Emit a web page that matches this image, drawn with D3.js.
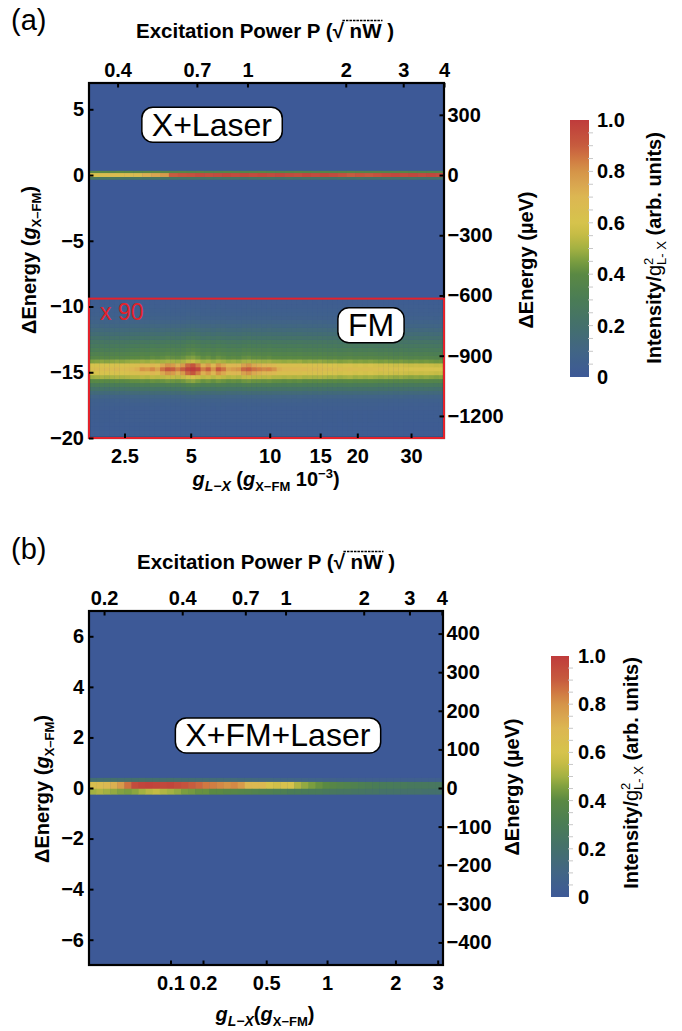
<!DOCTYPE html>
<html><head><meta charset="utf-8">
<script src="https://cdn.jsdelivr.net/npm/d3@7/dist/d3.min.js"></script>
<style>
html,body{margin:0;padding:0;background:#fff;}
svg{display:block;}
</style></head>
<body>
<svg id="chart" width="682" height="1031"></svg>
<script>
// ================= DATA =================
// colour map (colour bar)
const colorStops  = [0, 0.1, 0.2, 0.3, 0.4, 0.45, 0.5, 0.55, 0.6, 0.7, 0.75, 0.8, 0.85, 0.9, 1.0];
const colorValues = ["#3d5997","#416585","#44706c","#4a7c56","#5a8943","#7a9d3f","#a3b142","#c4bb45","#d6c34c","#dcb752","#d9a650","#d59448","#d07842","#c75c3e","#bf3b3b"];
const cbarTicks = [0, 0.2, 0.4, 0.6, 0.8, 1.0];
const cbarTickLabels = ["0", "0.2", "0.4", "0.6", "0.8", "1.0"];

const gXFM_ueV = 65.5;   // 1 g_X-FM in µeV (right axes)

// ---- panel (a) ----
const aPowerDomain = [0.327, 4];
const aEnergyDomain = [-20, 7];
const aTopTicks = [0.4, 0.7, 1, 2, 3, 4];
const aBottomTicks = [2.5, 5, 10, 15, 20, 30];
const aLeftTicks = [-20, -15, -10, -5, 0, 5];
const aRightTicks = [-1200, -900, -600, -300, 0, 300];
const aCouplingSlope = 10, aCouplingP0 = 0.17;     // g_L-X (1e-3) = slope * (P - P0)
// X+Laser line at 0 : three energy rows, 40 power columns
const aLineRowEdges = [0.32, 0.15, -0.15, -0.33];
const aLineTop = [0.38,0.39,0.38,0.4,0.39,0.38,0.39,0.4,0.38,0.37,0.38,0.37,0.38,0.36,0.37,0.38,0.37,0.36,0.37,0.38,
                  0.37,0.36,0.37,0.38,0.37,0.36,0.37,0.36,0.37,0.38,0.37,0.36,0.37,0.36,0.37,0.38,0.37,0.36,0.37,0.36];
const aLineMid = [0.62,0.64,0.66,0.65,0.66,0.67,0.72,0.75,0.78,0.9,0.92,0.93,0.95,0.94,0.95,0.96,0.95,0.96,0.95,0.96,
                  0.95,0.96,0.95,0.94,0.96,0.95,0.96,0.95,0.93,0.9,0.92,0.91,0.93,0.95,0.96,0.95,0.96,0.95,0.96,0.95];
const aLineBot = [0.26,0.25,0.26,0.25,0.24,0.25,0.24,0.25,0.24,0.24,0.23,0.24,0.23,0.24,0.23,0.24,0.23,0.22,0.23,0.24,
                  0.23,0.22,0.23,0.22,0.23,0.22,0.23,0.22,0.23,0.22,0.23,0.22,0.22,0.23,0.22,0.22,0.23,0.22,0.22,0.22];
// FM (x90) region
const fmFactor = "x 90";
const fmBoxTop = -9.4;
const fmRowStart = -20, fmRowStep = 0.3;
const fmCenterRow = 17;
const fmSideRows = [16, 18];
const fmRowProfile = [0.05,0.05,0.05,0.05,0.06,0.06,0.06,0.07,
                      0.08,0.1,0.15,0.24,0.36,0.48,0.64,
                      0.82,0.98,1.0,0.97,0.76,
                      0.62,0.56,0.5,0.45,0.4,0.34,0.28,0.23,
                      0.18,0.14,0.11,0.09,0.08,0.07,0.06,0.06];
const fmBase = [0.6,0.61,0.62,0.61,0.62,0.63,0.62,0.63,0.64,0.64,
                0.65,0.64,0.66,0.65,
                0.66,0.68,0.67,0.66,
                0.68,0.72,0.74,0.7,
                0.66,0.68,0.65,
                0.68,0.66,
                0.64,0.65,0.64,
                0.67,0.68,0.66,0.66,0.65,0.66,0.64,
                0.64,0.63,0.64,0.63,0.64,0.62,0.63,0.62,0.63,
                0.62,0.61,0.62,0.6,0.61,0.62,0.6,0.61,0.6,0.61,0.6,0.59,0.6,
                0.59,0.58,0.59,0.58,0.57,0.58,0.57,0.58,0.57,0.56,0.57];
const fmSide = [0.6,0.6,0.61,0.6,0.61,0.62,0.61,0.62,0.63,0.64,
                0.68,0.66,0.7,0.66,
                0.74,0.8,0.78,0.72,
                0.78,0.88,0.92,0.84,
                0.72,0.78,0.7,
                0.8,0.74,
                0.68,0.7,0.7,
                0.76,0.8,0.74,0.72,0.7,0.7,0.68,
                0.64,0.63,0.64,0.63,0.64,0.62,0.63,0.62,0.63,
                0.61,0.6,0.61,0.59,0.6,0.61,0.59,0.6,0.59,0.6,0.59,0.58,0.59,
                0.58,0.57,0.58,0.57,0.56,0.57,0.56,0.57,0.56,0.55,0.56];
const fmCenter = [0.64,0.66,0.65,0.67,0.66,0.68,0.66,0.67,0.7,0.72,
                  0.8,0.78,0.82,0.76,
                  0.86,0.92,0.9,0.84,
                  0.9,0.98,1.0,0.96,
                  0.84,0.9,0.8,
                  0.92,0.86,
                  0.76,0.78,0.8,
                  0.88,0.9,0.86,0.84,0.82,0.83,0.8,
                  0.72,0.7,0.69,0.7,0.68,0.7,0.67,0.68,0.67,
                  0.66,0.67,0.65,0.66,0.64,0.66,0.65,0.64,0.65,0.64,0.63,0.65,0.63,
                  0.62,0.63,0.61,0.62,0.6,0.61,0.62,0.6,0.61,0.6,0.6];

// ---- panel (b) ----
const bPowerDomain = [0.175, 4.04];
const bEnergyDomain = [-7, 7];
const bTopTicks = [0.2, 0.4, 0.7, 1, 2, 3, 4];
const bBottomTicks = [0.1, 0.2, 0.5, 1, 2, 3];
const bLeftTicks = [-6, -4, -2, 0, 2, 4, 6];
const bRightTicks = [-400, -300, -200, -100, 0, 100, 200, 300, 400];
const bCouplingSlope = 0.83, bCouplingP0 = 0.24;  // g_L-X = slope * (P - P0)
const bRowEdges = [0.4, 0.24, -0.03, -0.25];
const bTop = [0.18,0.19,0.2,0.2,0.19,0.2,0.2,0.21,0.2,0.2, 0.19,0.2,0.19,0.18,0.18,0.17,0.17,0.16,0.16,0.15,
              0.15,0.14,0.14,0.13,0.12,0.12,0.11,0.1,0.1,0.09, 0.09,0.08,0.08,0.07,0.07,0.06,0.06,0.06,0.05,0.05,
              0.05,0.05,0.05,0.05,0.05,0.05,0.05,0.05,0.05,0.05];
const bMid = [0.64,0.66,0.68,0.72,0.78,0.86,0.95,0.97,0.98,0.97, 0.96,0.97,0.95,0.93,0.9,0.88,0.85,0.84,0.82,0.8,
              0.82,0.78,0.7,0.68,0.68,0.6,0.58,0.62,0.6,0.52, 0.48,0.45,0.42,0.4,0.38,0.36,0.35,0.34,0.32,0.31,
              0.3,0.29,0.29,0.28,0.28,0.27,0.27,0.27,0.26,0.26];
const bBot = [0.5,0.52,0.5,0.48,0.46,0.45,0.47,0.5,0.53,0.55, 0.52,0.5,0.48,0.45,0.44,0.42,0.42,0.4,0.4,0.38,
              0.38,0.37,0.36,0.35,0.34,0.33,0.32,0.32,0.3,0.3, 0.29,0.28,0.28,0.27,0.26,0.25,0.25,0.24,0.24,0.23,
              0.23,0.22,0.22,0.22,0.21,0.21,0.21,0.2,0.2,0.2];

// annotations (data coordinates: P, energy)
const aLabels = [{text: "X+Laser", P: 0.778, E: 3.83}, {text: "FM", P: 2.39, E: -11.42}];
const aFactorPos = {P: 0.3535, E: -11.0};
const bLabels = [{text: "X+FM+Laser", P: 0.934, E: 2.08}];

// ================= DRAWING =================
const FONT = "'Liberation Sans', Arial, Helvetica, sans-serif";
const svg = d3.select("#chart");
const defs = svg.append("defs");
const color = d3.scaleLinear().domain(colorStops).range(colorValues).interpolate(d3.interpolateRgb).clamp(true);

// gradient for colour bars
const grad = defs.append("linearGradient").attr("id","cbgrad").attr("x1",0).attr("y1",1).attr("x2",0).attr("y2",0);
d3.range(0, 1.0001, 0.02).forEach(v => grad.append("stop").attr("offset", v).attr("stop-color", color(v)));

function styleAxis(g, size){
  g.select(".domain").remove();
  g.selectAll(".tick line").attr("stroke","#000").attr("stroke-width",2);
  g.selectAll(".tick text").attr("font-family",FONT).attr("font-size",size||20).attr("font-weight","bold").attr("fill","#000");
}

function drawPanel(cfg){
  const g = svg.append("g");
  const x = d3.scaleLog().domain(cfg.pDomain).range([cfg.x0, cfg.x1]);
  const y = d3.scaleLinear().domain(cfg.eDomain).range([cfg.y1, cfg.y0]);
  const yu = d3.scaleLinear().domain(cfg.eDomain.map(e => e * gXFM_ueV)).range([cfg.y1, cfg.y0]);
  const clipId = "clip" + cfg.id;
  defs.append("clipPath").attr("id", clipId).append("rect")
    .attr("x", cfg.x0).attr("y", cfg.y0).attr("width", cfg.x1 - cfg.x0).attr("height", cfg.y1 - cfg.y0);
  const plot = g.append("g").attr("clip-path", `url(#${clipId})`);
  plot.append("rect").attr("x", cfg.x0).attr("y", cfg.y0).attr("width", cfg.x1 - cfg.x0).attr("height", cfg.y1 - cfg.y0)
    .attr("fill", color(0));
  return {g, plot, x, y, yu};
}

// draw a band of rows (edges) x columns (values[row][col]) onto a log-power axis
function drawBand(p, pDomain, rowEdges, rows){
  const n = rows[0].length;
  const lx = d3.scaleLinear().domain([0, n]).range(pDomain.map(Math.log10));
  const cells = [];
  rows.forEach((vals, r) => vals.forEach((v, c) => cells.push({r, c, v})));
  p.plot.append("g").selectAll("rect").data(cells).join("rect")
    .attr("x", d => p.x(10 ** lx(d.c)))
    .attr("width", d => p.x(10 ** lx(d.c + 1)) - p.x(10 ** lx(d.c)) + 0.4)
    .attr("y", d => Math.min(p.y(rowEdges[d.r]), p.y(rowEdges[d.r + 1])))
    .attr("height", d => Math.abs(p.y(rowEdges[d.r + 1]) - p.y(rowEdges[d.r])) + 0.3)
    .attr("fill", d => color(d.v));
}

function drawAxes(p, cfg){
  const fmt = d3.format("~g");
  const top = p.g.append("g").attr("transform", `translate(0,${cfg.y0})`)
    .call(d3.axisTop(p.x).tickValues(cfg.topTicks).tickFormat(fmt).tickSize(-4.5).tickPadding(6));
  styleAxis(top);
  const bt = cfg.bottomTicks;
  const bot = p.g.append("g").attr("transform", `translate(0,${cfg.y1})`)
    .call(d3.axisBottom(p.x).tickValues(bt.map(v => v / cfg.slope + cfg.p0))
      .tickFormat((d, i) => fmt(bt[i])).tickSize(-4.5).tickPadding(11));
  styleAxis(bot);
  const left = p.g.append("g").attr("transform", `translate(${cfg.x0},0)`)
    .call(d3.axisLeft(p.y).tickValues(cfg.leftTicks).tickFormat(d3.format("d")).tickSize(-4.5).tickPadding(5));
  styleAxis(left);
  const right = p.g.append("g").attr("transform", `translate(${cfg.x1},0)`)
    .call(d3.axisRight(p.yu).tickValues(cfg.rightTicks).tickFormat(d3.format("d")).tickSize(-4.5).tickPadding(3.5));
  styleAxis(right);
}

function drawFrame(p, cfg){
  p.g.append("rect").attr("x", cfg.x0).attr("y", cfg.y0).attr("width", cfg.x1 - cfg.x0).attr("height", cfg.y1 - cfg.y0)
    .attr("fill","none").attr("stroke","#000").attr("stroke-width",2.2);
}

function drawColorbar(cb){
  const s = d3.scaleLinear().domain([0,1]).range([cb.y1, cb.y0]);
  const g = svg.append("g");
  g.append("rect").attr("x", cb.x0).attr("y", cb.y0).attr("width", cb.x1 - cb.x0).attr("height", cb.y1 - cb.y0)
    .attr("fill","url(#cbgrad)");
  g.selectAll("line.minor").data(d3.range(0.05, 0.999, 0.05)).join("line").attr("class","minor")
    .attr("x1", cb.x1 - 1).attr("x2", cb.x1 + 4).attr("y1", d => s(d)).attr("y2", d => s(d))
    .attr("stroke", "#c8c8c8").attr("stroke-width", 1);
  const ax = g.append("g").attr("transform", `translate(${cb.x1},0)`)
    .call(d3.axisRight(s).tickValues(cbarTicks).tickFormat((d,i) => cbarTickLabels[i]).tickSize(0).tickPadding(cb.pad));
  styleAxis(ax);
}

function labelBox(p, lab, size){
  const grp = p.g.append("g");
  const rect = grp.append("rect");
  const t = grp.append("text").attr("x", p.x(lab.P)).attr("y", p.y(lab.E))
    .attr("text-anchor","middle").attr("dominant-baseline","central")
    .attr("font-family",FONT).attr("font-size",size).attr("fill","#000").text(lab.text);
  const bb = t.node().getBBox();
  const h = 35;
  const cy = p.y(lab.E);
  rect.attr("x", bb.x - 10).attr("y", cy - h / 2).attr("width", bb.width + 20).attr("height", h)
    .attr("rx", 11).attr("fill","#fff").attr("stroke","#000").attr("stroke-width",1.5);
}

function topTitle(cx, baseline){
  const t = svg.append("text").attr("x", cx).attr("y", baseline).attr("text-anchor","middle")
    .attr("font-family",FONT).attr("font-size",20.5).attr("font-weight","bold").attr("fill","#000");
  const str = "Excitation Power P (\u221A nW )";
  t.text(str);
  const node = t.node();
  const i0 = str.indexOf("\u221A"), i1 = str.indexOf("W");
  const sx = node.getEndPositionOfChar(i0).x - 1.5, ex = node.getEndPositionOfChar(i1).x + 1;
  svg.append("line").attr("x1", sx).attr("x2", ex).attr("y1", baseline - 17.5).attr("y2", baseline - 17.5)
    .attr("stroke","#000").attr("stroke-width",1.3).attr("stroke-dasharray","2.5,1");
}

function rotTitle(x, y, build){
  const t = svg.append("text").attr("transform", `translate(${x},${y}) rotate(-90)`).attr("text-anchor","middle")
    .attr("font-family",FONT).attr("font-size",20).attr("font-weight","bold").attr("fill","#000");
  build(t);
  return t;
}
function energyTitle(t){
  t.append("tspan").text("\u0394Energy (");
  t.append("tspan").attr("font-style","italic").text("g");
  t.append("tspan").attr("font-size",13).attr("dy",5).text("X\u2013FM");
  t.append("tspan").attr("dy",-5).text(")");
}
function ueVTitle(t){ t.text("\u0394Energy (\u00B5eV)"); }
function intensityTitle(t){
  t.append("tspan").text("Intensity/");
  t.append("tspan").attr("font-weight","normal").text("g");
  const sup = t.append("tspan").attr("font-weight","normal").attr("font-size",13).attr("dy",-8).text("2");
  const w = sup.node().getComputedTextLength();
  t.append("tspan").attr("font-weight","normal").attr("font-size",13).attr("dx",-w).attr("dy",13).text("L- X");
  t.append("tspan").attr("dy",-5).text(" (arb. units)");
}

function panelLetter(txt, x, baseline){
  svg.append("text").attr("x", x).attr("y", baseline).attr("font-family",FONT).attr("font-size",29)
    .attr("fill","#000").text(txt);
}

// ---------------- panel (a) ----------------
const cfgA = {id:"a", x0:89, x1:444, y0:83, y1:438, pDomain:aPowerDomain, eDomain:aEnergyDomain,
  topTicks:aTopTicks, bottomTicks:aBottomTicks, leftTicks:aLeftTicks, rightTicks:aRightTicks,
  slope:aCouplingSlope, p0:aCouplingP0};
const pa = drawPanel(cfgA);
drawBand(pa, aPowerDomain, aLineRowEdges, [aLineTop, aLineMid, aLineBot]);
// FM region (x90)
{
  const clipId = "clipFM";
  defs.append("clipPath").attr("id", clipId).append("rect")
    .attr("x", cfgA.x0).attr("y", pa.y(fmBoxTop)).attr("width", cfgA.x1 - cfgA.x0).attr("height", cfgA.y1 - pa.y(fmBoxTop));
  const fmRows = fmRowProfile.map((prof, k) =>
    k === fmCenterRow ? fmCenter.slice() : (fmSideRows.includes(k) ? fmSide.slice() : fmBase.map(b => b * prof)));
  const fmEdges = d3.range(fmRowProfile.length + 1).map(k => fmRowStart + k * fmRowStep);
  const sub = {plot: pa.plot.append("g").attr("clip-path", `url(#${clipId})`), x: pa.x, y: pa.y};
  drawBand(sub, aPowerDomain, fmEdges, fmRows);
}
drawFrame(pa, cfgA);
pa.g.append("rect").attr("x", cfgA.x0).attr("y", pa.y(fmBoxTop)).attr("width", cfgA.x1 - cfgA.x0)
  .attr("height", cfgA.y1 - pa.y(fmBoxTop)).attr("fill","none").attr("stroke","#e3222b").attr("stroke-width",2);
drawAxes(pa, cfgA);
pa.g.append("text").attr("x", pa.x(aFactorPos.P)).attr("y", pa.y(aFactorPos.E)).attr("font-family",FONT)
  .attr("font-size",23).attr("fill","#e3222b").text(fmFactor);
aLabels.forEach(l => labelBox(pa, l, 32));
drawColorbar({x0:570, x1:589, y0:120, y1:377, pad:8});
topTitle(265, 38);
rotTitle(36, 260, energyTitle);
rotTitle(533, 260, ueVTitle);
rotTitle(661, 248, intensityTitle);
{
  const t = svg.append("text").attr("x", 266).attr("y", 486).attr("text-anchor","middle")
    .attr("font-family",FONT).attr("font-size",20).attr("font-weight","bold").attr("fill","#000");
  t.append("tspan").attr("font-style","italic").text("g");
  t.append("tspan").attr("font-style","italic").attr("font-size",14).attr("dy",5).text("L\u2212X");
  t.append("tspan").attr("dy",-5).text(" (");
  t.append("tspan").attr("font-style","italic").text("g");
  t.append("tspan").attr("font-size",13).attr("dy",5).text("X\u2212FM");
  t.append("tspan").attr("dy",-5).text(" 10");
  t.append("tspan").attr("font-size",13).attr("dy",-8).text("\u22123");
  t.append("tspan").attr("dy",8).text(")");
}
panelLetter("(a)", 11, 30);

// ---------------- panel (b) ----------------
const cfgB = {id:"b", x0:89, x1:443, y0:611, y1:965, pDomain:bPowerDomain, eDomain:bEnergyDomain,
  topTicks:bTopTicks, bottomTicks:bBottomTicks, leftTicks:bLeftTicks, rightTicks:bRightTicks,
  slope:bCouplingSlope, p0:bCouplingP0};
const pb = drawPanel(cfgB);
drawBand(pb, bPowerDomain, bRowEdges, [bTop, bMid, bBot]);
drawFrame(pb, cfgB);
drawAxes(pb, cfgB);
bLabels.forEach(l => labelBox(pb, l, 32));
drawColorbar({x0:551, x1:569, y0:656, y1:897, pad:9});
topTitle(266, 569);
rotTitle(49, 789, energyTitle);
rotTitle(519, 787, ueVTitle);
rotTitle(638, 773, intensityTitle);
{
  const t = svg.append("text").attr("x", 265).attr("y", 1021).attr("text-anchor","middle")
    .attr("font-family",FONT).attr("font-size",20).attr("font-weight","bold").attr("fill","#000");
  t.append("tspan").attr("font-style","italic").text("g");
  t.append("tspan").attr("font-style","italic").attr("font-size",14).attr("dy",5).text("L\u2212X");
  t.append("tspan").attr("dy",-5).text("(");
  t.append("tspan").attr("font-style","italic").text("g");
  t.append("tspan").attr("font-size",13).attr("dy",5).text("X\u2212FM");
  t.append("tspan").attr("dy",-5).text(")");
}
panelLetter("(b)", 11, 559);
</script>
</body></html>
